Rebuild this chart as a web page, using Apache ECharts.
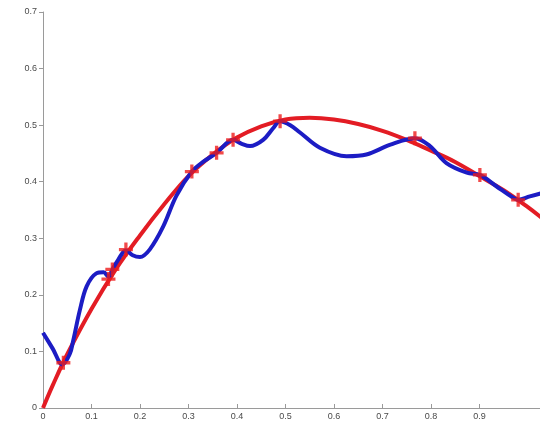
<!DOCTYPE html>
<html>
<head>
<meta charset="utf-8">
<script src="https://cdn.jsdelivr.net/npm/echarts@6/dist/echarts.min.js"></script>
<style>
  html, body { margin: 0; padding: 0; background: #fff; }
  #chart { width: 540px; height: 423px; }
</style>
</head>
<body>
<div id="chart"></div>
<script>
// Fitted smooth curve (red)
const fitX = [0, 0.02, 0.05, 0.1, 0.15, 0.2, 0.25, 0.3, 0.35, 0.4, 0.45, 0.5, 0.55, 0.6, 0.65, 0.7, 0.75, 0.8, 0.85, 0.9, 0.95, 1.0, 1.03];
const fitY = [0, 0.04, 0.095, 0.175, 0.245, 0.305, 0.36, 0.41, 0.448, 0.478, 0.498, 0.51, 0.513, 0.51, 0.502, 0.49, 0.474, 0.455, 0.435, 0.41, 0.385, 0.355, 0.335];

// Interpolating curve through the samples (blue)
const interpX = [0, 0.02, 0.04, 0.055, 0.0625, 0.076, 0.09, 0.11, 0.125, 0.135, 0.143, 0.155, 0.171, 0.185, 0.2, 0.22, 0.248, 0.275, 0.307, 0.33, 0.358, 0.392, 0.41, 0.427, 0.454, 0.475, 0.489, 0.51, 0.53, 0.571, 0.626, 0.667, 0.715, 0.767, 0.798, 0.832, 0.874, 0.901, 0.935, 0.969, 0.98, 1.004, 1.03];
const interpY = [0.133, 0.105, 0.077, 0.095, 0.12, 0.173, 0.215, 0.238, 0.24, 0.232, 0.245, 0.262, 0.279, 0.27, 0.267, 0.28, 0.321, 0.375, 0.418, 0.435, 0.451, 0.474, 0.467, 0.463, 0.474, 0.495, 0.507, 0.5, 0.487, 0.46, 0.445, 0.448, 0.465, 0.477, 0.463, 0.433, 0.416, 0.412, 0.392, 0.372, 0.368, 0.374, 0.38];

// Sample points (red plus markers)
const sampleX = [0.042, 0.135, 0.143, 0.171, 0.307, 0.358, 0.392, 0.489, 0.767, 0.901, 0.98];
const sampleY = [0.08, 0.228, 0.245, 0.28, 0.418, 0.451, 0.474, 0.507, 0.477, 0.412, 0.368];

// Tick labels
const xTicks = ['0', '0.1', '0.2', '0.3', '0.4', '0.5', '0.6', '0.7', '0.8', '0.9'];
const yTicks = ['0', '0.1', '0.2', '0.3', '0.4', '0.5', '0.6', '0.7'];
const xTickValues = xTicks.map(Number);
const yTickValues = yTicks.map(Number);

const zip = (xs, ys) => xs.map((x, i) => [x, ys[i]]);
const plus = 'path://M-1.4,-6 H1.4 V-1.4 H6 V1.4 H1.4 V6 H-1.4 V1.4 H-6 V-1.4 H-1.4 Z';

const chart = echarts.init(document.getElementById('chart'), null, { renderer: 'canvas' });
const labelFont = { fontFamily: 'Liberation Sans, Arial, sans-serif', fontSize: 9, color: '#4a4a4a' };

chart.setOption({
  animation: false,
  backgroundColor: '#ffffff',
  grid: { left: 43, right: 0, top: 12, bottom: 15 },
  xAxis: {
    type: 'value', min: 0, max: 1.025,
    axisLine: { show: true, lineStyle: { color: '#9a9a9a', width: 1 } },
    axisTick: { show: true, inside: true, length: 4, customValues: xTickValues, lineStyle: { color: '#9a9a9a' } },
    splitLine: { show: false },
    axisLabel: Object.assign({}, labelFont, {
      margin: 4,
      customValues: xTickValues,
      formatter: v => xTicks[Math.round(v * 10)] || ''
    })
  },
  yAxis: {
    type: 'value', min: 0, max: 0.7,
    axisLine: { show: true, lineStyle: { color: '#9a9a9a', width: 1 } },
    axisTick: { show: true, inside: false, length: 4, customValues: yTickValues, lineStyle: { color: '#9a9a9a' } },
    splitLine: { show: false },
    axisLabel: Object.assign({}, labelFont, {
      margin: 6,
      customValues: yTickValues,
      formatter: v => yTicks[Math.round(v * 10)] || ''
    })
  },
  series: [
    {
      type: 'line', data: zip(fitX, fitY), smooth: 0.4, showSymbol: false,
      lineStyle: { color: '#e31c24', width: 4 }, z: 2
    },
    {
      type: 'line', data: zip(interpX, interpY), smooth: 0.35, showSymbol: false,
      lineStyle: { color: '#1c1cc4', width: 4 }, z: 3
    },
    {
      type: 'scatter', data: zip(sampleX, sampleY), symbol: plus, symbolSize: 14,
      itemStyle: { color: '#ee1c1c' }, z: 4
    }
  ]
});
</script>
</body>
</html>
